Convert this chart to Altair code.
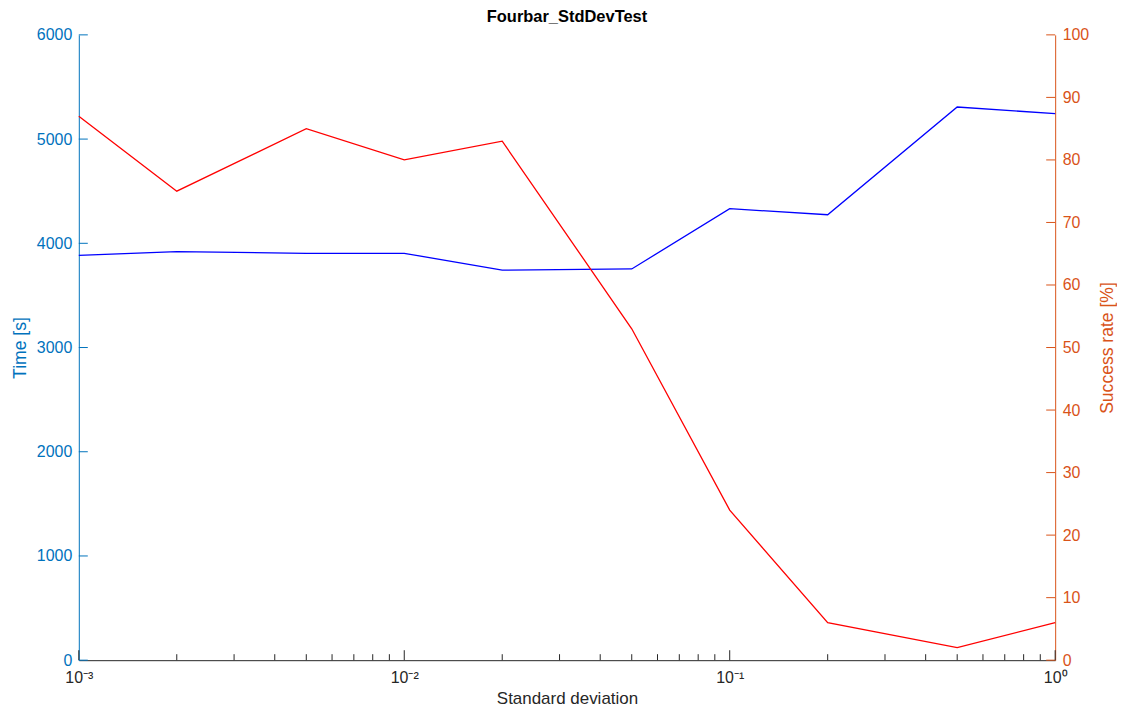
import altair as alt
import pandas as pd

# ---- data ----
std_dev = [0.001, 0.002, 0.005, 0.01, 0.02, 0.05, 0.1, 0.2, 0.5, 1.0]
time_s = [3885, 3920, 3904, 3904, 3742, 3754, 4332, 4274, 5308, 5244]
success_pct = [87, 75, 85, 80, 83, 53, 24, 6, 2, 6]

x_major = [0.001, 0.01, 0.1, 1.0]
x_labels = ["10⁻³", "10⁻²", "10⁻¹", "10⁰"]
x_minor = [0.002, 0.003, 0.004, 0.005, 0.006, 0.007, 0.008, 0.009,
           0.02, 0.03, 0.04, 0.05, 0.06, 0.07, 0.08, 0.09,
           0.2, 0.3, 0.4, 0.5, 0.6, 0.7, 0.8, 0.9]
time_ticks = [0, 1000, 2000, 3000, 4000, 5000, 6000]
rate_ticks = [0, 10, 20, 30, 40, 50, 60, 70, 80, 90, 100]

# ---- styling ----
W, H = 979, 627
BLUE_AX = "#0072BD"
ORANGE_AX = "#D95319"
DARK = "#262626"
FONT = "Liberation Sans"

df = pd.DataFrame({"sd": std_dev, "time": time_s, "rate": success_pct})

xscale = alt.Scale(type="log", domain=[0.001, 1], nice=False)
label_expr = "[" + ",".join("'%s'" % l for l in x_labels) + "][round(log(datum.value)/LN10)+3]"
xaxis = alt.Axis(values=x_major, labelExpr=label_expr, ticks=False, grid=False,
                 domainColor=DARK, domainWidth=1, labelColor=DARK, labelFontSize=16,
                 labelPadding=9, labelFlush=False, labelOverlap=False,
                 title="Standard deviation", titleColor=DARK, titleFontSize=17,
                 titleFontWeight="normal", titleBaseline="alphabetic",
                 titleX=W / 2, titleY=43)

tscale = alt.Scale(domain=[0, 6000], nice=False)
rscale = alt.Scale(domain=[0, 100], nice=False)

taxis = alt.Axis(orient="left", values=time_ticks, format="d", ticks=False, grid=False,
                 domainColor=BLUE_AX, domainWidth=1, labelColor=BLUE_AX, labelFontSize=16,
                 labelPadding=7, title="Time [s]", titleColor=BLUE_AX, titleFontSize=17.6,
                 titleFontWeight="normal", titleAngle=270, titleAlign="center",
                 titleBaseline="middle", titleX=-58, titleY=H / 2)
raxis = alt.Axis(orient="right", values=rate_ticks, format="d", ticks=False, grid=False,
                 domainColor=ORANGE_AX, domainWidth=1, labelColor=ORANGE_AX, labelFontSize=16,
                 labelPadding=7, title="Success rate [%]", titleColor=ORANGE_AX,
                 titleFontSize=17.6, titleFontWeight="normal", titleAngle=270,
                 titleAlign="center", titleBaseline="middle", titleX=52, titleY=H / 2)

X = alt.X("sd:Q", scale=xscale, axis=xaxis)

blue_line = alt.Chart(df).mark_line(color="#0000FF", strokeWidth=1.3).encode(
    x=X,
    y=alt.Y("time:Q", scale=tscale, axis=taxis),
)
blue_ticks = alt.Chart(pd.DataFrame({"time": time_ticks})).mark_rule(
    color=BLUE_AX, strokeWidth=1).encode(
    y=alt.Y("time:Q", scale=tscale, axis=taxis),
    x=alt.value(0), x2=alt.value(9),
)
red_line = alt.Chart(df).mark_line(color="#FF0000", strokeWidth=1.3).encode(
    x=X,
    y=alt.Y("rate:Q", scale=rscale, axis=raxis),
)
red_ticks = alt.Chart(pd.DataFrame({"rate": rate_ticks})).mark_rule(
    color=ORANGE_AX, strokeWidth=1).encode(
    y=alt.Y("rate:Q", scale=rscale, axis=raxis),
    x=alt.value(W - 9), x2=alt.value(W),
)
x_major_ticks = alt.Chart(pd.DataFrame({"sd": x_major})).mark_rule(
    color=DARK, strokeWidth=1).encode(
    x=X,
    y=alt.value(H), y2=alt.value(H - 10),
)
x_minor_ticks = alt.Chart(pd.DataFrame({"sd": x_minor})).mark_rule(
    color=DARK, strokeWidth=1).encode(
    x=X,
    y=alt.value(H), y2=alt.value(H - 6),
)

chart = alt.layer(
    alt.layer(blue_line, blue_ticks),
    alt.layer(red_line, red_ticks),
    x_major_ticks,
    x_minor_ticks,
).resolve_scale(y="independent").properties(
    width=W,
    height=H,
    padding={"left": 71, "top": 26, "right": 62, "bottom": 47},
    autosize=alt.AutoSizeParams(type="none"),
    title=alt.Title("Fourbar_StdDevTest", fontSize=16.5, fontWeight="bold",
                    color="#000000", anchor="middle", frame="group", offset=1,
                    font=FONT),
).configure(font=FONT).configure_view(strokeWidth=0)

chart.save("out.html", embed_options={"renderer": "svg", "actions": False})
